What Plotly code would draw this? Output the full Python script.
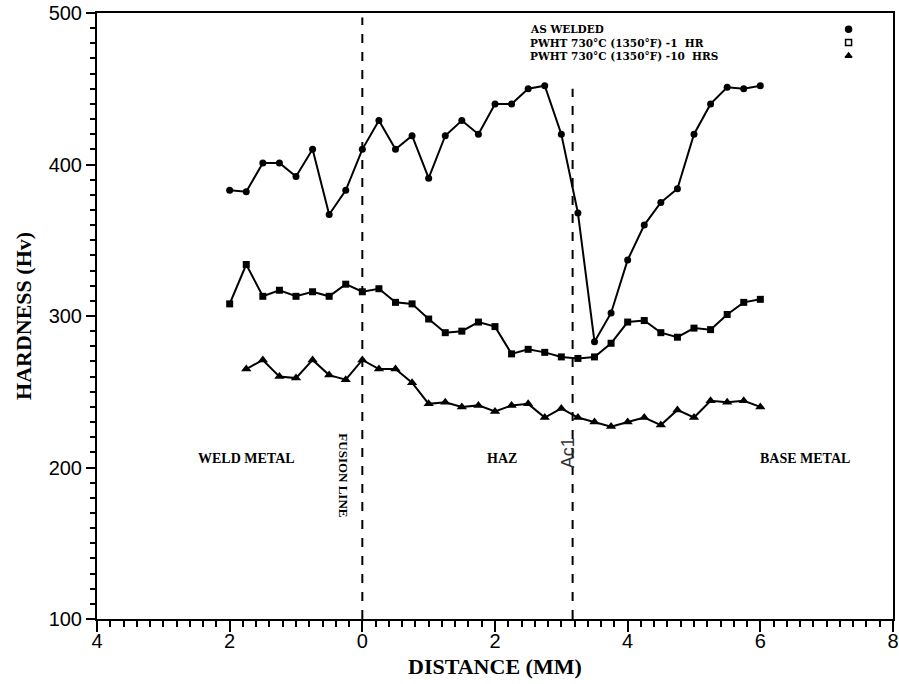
import plotly.graph_objects as go

# Distance from fusion line (mm); weld-metal side negative
x_welded = [-2.0, -1.75, -1.5, -1.25, -1.0, -0.75, -0.5, -0.25, 0.0, 0.25, 0.5, 0.75, 1.0, 1.25, 1.5, 1.75,
            2.0, 2.25, 2.5, 2.75, 3.0, 3.25, 3.5, 3.75, 4.0, 4.25, 4.5, 4.75, 5.0, 5.25, 5.5, 5.75, 6.0]
hv_welded = [383, 382, 401, 401, 392, 410, 367, 383, 410, 429, 410, 419, 391, 419, 429, 420,
             440, 440, 450, 452, 420, 368, 283, 302, 337, 360, 375, 384, 420, 440, 451, 450, 452]

x_1hr = [-2.0, -1.75, -1.5, -1.25, -1.0, -0.75, -0.5, -0.25, 0.0, 0.25, 0.5, 0.75, 1.0, 1.25, 1.5, 1.75,
         2.0, 2.25, 2.5, 2.75, 3.0, 3.25, 3.5, 3.75, 4.0, 4.25, 4.5, 4.75, 5.0, 5.25, 5.5, 5.75, 6.0]
hv_1hr = [308, 334, 313, 317, 313, 316, 313, 321, 316, 318, 309, 308, 298, 289, 290, 296,
          293, 275, 278, 276, 273, 272, 273, 282, 296, 297, 289, 286, 292, 291, 301, 309, 311]

x_10hr = [-1.75, -1.5, -1.25, -1.0, -0.75, -0.5, -0.25, 0.0, 0.25, 0.5, 0.75, 1.0, 1.25, 1.5, 1.75,
          2.0, 2.25, 2.5, 2.75, 3.0, 3.25, 3.5, 3.75, 4.0, 4.25, 4.5, 4.75, 5.0, 5.25, 5.5, 5.75, 6.0]
hv_10hr = [265, 271, 260, 259, 271, 261, 258, 271, 265, 265, 256, 242, 243, 240, 241,
           237, 241, 242, 233, 239, 233, 230, 227, 230, 233, 228, 238, 233, 244, 243, 244, 240]

x_tickvals = [-4, -2, 0, 2, 4, 6, 8]
x_ticktext = ["4", "2", "0", "2", "4", "6", "8"]
y_tickvals = [100, 200, 300, 400, 500]

fusion_x = 0.0
ac1_x = 3.17

legend_labels = ["AS WELDED", "PWHT 730\u00b0C (1350\u00b0F) -1  HR", "PWHT 730\u00b0C (1350\u00b0F) -10  HRS"]
legend_symbols = ["circle", "square-open", "triangle-up"]
legend_y = [489.3, 480.5, 471.7]

region_labels = ["WELD METAL", "HAZ", "BASE METAL"]
region_x = [-1.75, 2.1, 6.68]
region_y = 206

SERIF = "Liberation Serif"
SANS = "Liberation Sans"

fig = go.Figure()

line_style = dict(color="black", width=2)
fig.add_trace(go.Scatter(x=x_welded, y=hv_welded, mode="lines+markers", line=line_style,
                         marker=dict(symbol="circle", size=7, color="black"), showlegend=False))
fig.add_trace(go.Scatter(x=x_1hr, y=hv_1hr, mode="lines+markers", line=line_style,
                         marker=dict(symbol="square", size=7, color="black"), showlegend=False))
fig.add_trace(go.Scatter(x=x_10hr, y=hv_10hr, mode="lines+markers", line=line_style,
                         marker=dict(symbol="triangle-up", size=9, color="black"), showlegend=False))

# legend symbols
fig.add_trace(go.Scatter(x=[7.33] * 3, y=legend_y, mode="markers",
                         marker=dict(symbol=legend_symbols, size=6, color="black",
                                     line=dict(color="black", width=1.5)),
                         showlegend=False, hoverinfo="skip"))

# dashed vertical lines
fig.add_shape(type="line", x0=fusion_x, x1=fusion_x, y0=100, y1=497,
              line=dict(color="black", width=2, dash="dash"))
fig.add_shape(type="line", x0=ac1_x, x1=ac1_x, y0=100, y1=450,
              line=dict(color="black", width=2, dash="dash"))

for lab, ly in zip(legend_labels, legend_y):
    fig.add_annotation(x=2.5, y=ly, text="<b>" + lab + "</b>", showarrow=False,
                       xanchor="left", yanchor="middle", height=12, valign="middle",
                       font=dict(family="DejaVu Serif", size=10.5, color="black"))

for lab, rx in zip(region_labels, region_x):
    fig.add_annotation(x=rx, y=region_y, text="<b>" + lab + "</b>", showarrow=False,
                       font=dict(family=SERIF, size=14, color="black"))

fig.add_annotation(x=-0.28, y=195, text="<b>FUSION LINE</b>", textangle=90, showarrow=False,
                   font=dict(family=SERIF, size=13, color="black"))
fig.add_annotation(x=3.1, y=210, text="Ac1", textangle=-90, showarrow=False,
                   font=dict(family=SANS, size=18, color="#333333"))

# axis titles
fig.add_annotation(xref="paper", yref="paper", x=0.5, y=-0.079, yanchor="middle",
                   text="<b>DISTANCE (MM)</b>", showarrow=False,
                   font=dict(family=SERIF, size=22, color="black"))
fig.add_annotation(xref="paper", yref="paper", x=-0.093, y=0.5, xanchor="center", yanchor="middle",
                   text="<b>HARDNESS (Hv)</b>", textangle=-90, showarrow=False,
                   font=dict(family=SERIF, size=22, color="black"))

fig.update_xaxes(range=[-4, 8], tickvals=x_tickvals, ticktext=x_ticktext,
                 ticks="outside", ticklen=11, tickwidth=2, tickcolor="black",
                 minor=dict(dtick=0.2, ticks="outside", ticklen=6, tickwidth=2, tickcolor="black"),
                 showline=True, linewidth=2, linecolor="black", mirror=True,
                 showgrid=False, zeroline=False, automargin=False,
                 ticklabelstandoff=-8,
                 tickfont=dict(family=SANS, size=20, color="black"))
fig.update_yaxes(range=[100, 500], tickvals=y_tickvals,
                 ticks="outside", ticklen=9, tickwidth=2, tickcolor="black",
                 minor=dict(dtick=10, ticks="outside", ticklen=5, tickwidth=2, tickcolor="black"),
                 showline=True, linewidth=2, linecolor="black", mirror=True,
                 showgrid=False, zeroline=False, automargin=False,
                 tickfont=dict(family=SANS, size=20, color="black"))

fig.update_layout(width=899, height=684, margin=dict(l=97, r=6, t=13, b=65),
                  plot_bgcolor="white", paper_bgcolor="white")

fig.write_html("out.html", config={"displayModeBar": False},
               post_script="document.body.style.margin='0px';document.body.style.padding='0px';")
